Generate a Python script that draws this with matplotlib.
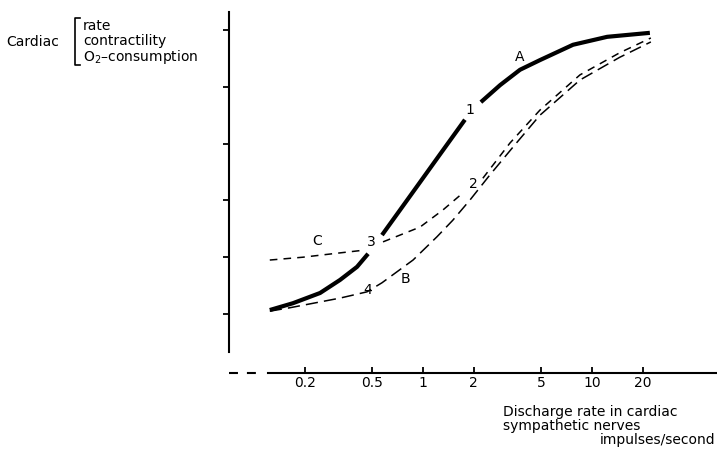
import numpy as np
import matplotlib
matplotlib.use("Agg")
import matplotlib.pyplot as plt

nan = np.nan

# discharge rate (impulses/s) and response (arbitrary units, ticks 1..6)
a_rate = [0.124, 0.170, 0.246, 0.323, 0.407, 0.473, nan,
          0.572, 0.731, 0.96, 1.26, 1.77, nan,
          2.20, 2.86, 3.75, 4.92, 7.72, 12.3, 22.0]
a_val = [1.07, 1.19, 1.37, 1.60, 1.83, 2.06, nan,
         2.39, 2.83, 3.32, 3.81, 4.42, nan,
         4.73, 5.03, 5.30, 5.47, 5.74, 5.88, 5.95]

b_rate = [0.124, 0.163, 0.323, 0.466, 0.572, 0.873, 1.21, 1.50,
          1.90, 2.49, 3.50, 4.92, 8.49, 14.6, 22.3]
b_val = [1.05, 1.11, 1.28, 1.39, 1.55, 1.95, 2.36, 2.65,
         3.01, 3.45, 3.98, 4.50, 5.12, 5.52, 5.79]

c_rate = [0.124, 0.195, 0.310, 0.436, nan, 0.580, 0.96, 1.31, 1.72, nan,
          2.26, 3.27, 4.92, 8.49, 14.6, 22.3]
c_val = [1.95, 2.00, 2.07, 2.12, nan, 2.27, 2.53, 2.83, 3.13, nan,
         3.39, 4.01, 4.59, 5.21, 5.60, 5.86]

xticks = [0.2, 0.5, 1, 2, 5, 10, 20]
xtick_labels = ["0.2", "0.5", "1", "2", "5", "10", "20"]
yticks = [1, 2, 3, 4, 5, 6]

# point labels on the curves
marks = ["A", "1", "2", "3", "4", "B", "C"]
mark_rate = [3.75, 1.90, 2.0, 0.492, 0.473, 0.783, 0.236]
mark_val = [5.52, 4.59, 3.29, 2.27, 1.42, 1.62, 2.29]

W, H = 717, 450
fig = plt.figure(figsize=(W / 100, H / 100), dpi=100)
ax = fig.add_axes([229 / W, 1 - 373 / H, 488 / W, 361 / H])

px2rate = lambda p: 10 ** ((p - 423) / 169)
px2val = lambda p: 1 + (314 - p) / 56.8

ax.set_xscale("log")
ax.set_xlim(px2rate(229), px2rate(717))
ax.set_ylim(px2val(373), px2val(12))

ax.plot(a_rate, a_val, color="black", lw=3.0, solid_capstyle="butt")
ax.plot(b_rate, b_val, color="black", lw=1.1, dashes=(8, 4))
ax.plot(c_rate, c_val, color="black", lw=1.1, dashes=(5, 4))

fs = 10
for t, r, v in zip(marks, mark_rate, mark_val):
    ax.text(r, v, t, fontsize=fs, ha="center", va="center")

for s in ["top", "right"]:
    ax.spines[s].set_visible(False)
ax.spines["left"].set_linewidth(1.5)
ax.spines["bottom"].set_linewidth(1.5)
ax.spines["left"].set_bounds(px2val(352), px2val(12))
ax.spines["bottom"].set_bounds(px2rate(268), px2rate(717))

# broken start of the x axis
ax.plot([px2rate(229), px2rate(257)], [px2val(373)] * 2, color="black",
        lw=1.5, dashes=(4.3, 4.3), clip_on=False, solid_capstyle="butt")

ax.set_xticks(xticks)
ax.set_xticklabels(xtick_labels, fontsize=fs)
ax.xaxis.set_minor_locator(matplotlib.ticker.NullLocator())
ax.tick_params(axis="x", direction="in", length=4, width=1.3, pad=2)
ax.set_yticks(yticks)
ax.set_yticklabels([])
ax.tick_params(axis="y", direction="out", length=4, width=1.3)

# axis title
fig.text(503 / W, 1 - 412 / H, "Discharge rate in cardiac", fontsize=fs,
         ha="left", va="center")
fig.text(503 / W, 1 - 426 / H, "sympathetic nerves", fontsize=fs,
         ha="left", va="center")
fig.text(715 / W, 1 - 440 / H, "impulses/second", fontsize=fs,
         ha="right", va="center")

# y label with bracket
fig.text(6 / W, 1 - 42 / H, "Cardiac", fontsize=fs, ha="left", va="center")
for txt, yy in zip(["rate", "contractility", "O$_2$\u2013consumption"], [26, 41, 57]):
    fig.text(83 / W, 1 - yy / H, txt, fontsize=fs, ha="left", va="center")
fig.add_artist(plt.Line2D([80 / W, 75 / W, 75 / W, 80 / W],
                          [1 - 18 / H, 1 - 18 / H, 1 - 65 / H, 1 - 65 / H],
                          color="black", lw=1.2))

fig.savefig("out.png", dpi=100)
